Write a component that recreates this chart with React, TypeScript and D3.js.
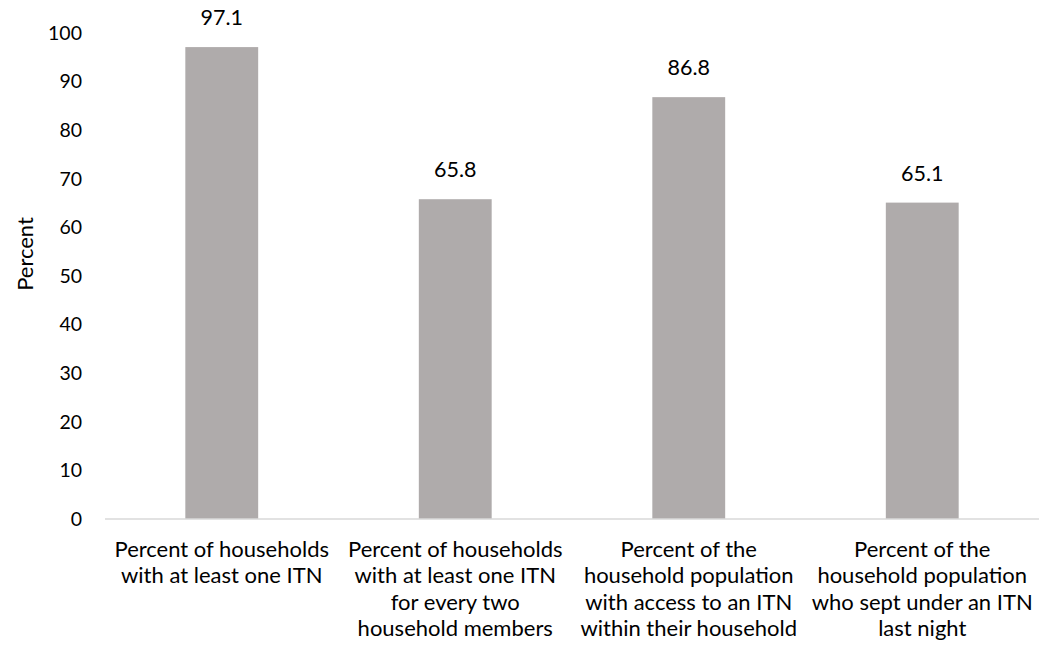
import React from "react";
import * as d3 from "d3";

const categories = [
  ["Percent of households", "with at least one ITN"],
  ["Percent of households", "with at least one ITN", "for every two", "household members"],
  ["Percent of the", "household population", "with access to an ITN", "within their household"],
  ["Percent of the", "household population", "who sept under an ITN", "last night"],
];
const values = [97.1, 65.8, 86.8, 65.1];
const yTicks = [0, 10, 20, 30, 40, 50, 60, 70, 80, 90, 100];

const W = 1039;
const H = 653;
const font = "Lato, 'Open Sans', sans-serif";

export default function App() {
  const x = d3
    .scaleBand<number>()
    .domain(values.map((_, i) => i))
    .range([105, 1039])
    .paddingInner(0.688)
    .paddingOuter(0.344);
  const y = d3.scaleLinear().domain([0, 100]).range([519, 33]);

  return (
    <svg
      width={W}
      height={H}
      style={{ position: "absolute", left: 0, top: 0, background: "#fff" }}
      fontFamily={font}
    >
      {/* y tick labels */}
      {yTicks.map((t) => (
        <text
          key={t}
          x={82}
          y={y(t)}
          dy="0.35em"
          textAnchor="end"
          fontSize={19.5}
          fill="#000"
        >
          {t}
        </text>
      ))}
      <text
        transform={`translate(33, ${254}) rotate(-90)`}
        textAnchor="middle"
        fontSize={22}
        fill="#000"
      >
        Percent
      </text>

      {/* bars */}
      {values.map((v, i) => (
        <g key={i}>
          <rect
            x={x(i)}
            y={y(v)}
            width={x.bandwidth()}
            height={y(0) - y(v)}
            fill="#AFABAB"
          />
          <text
            x={(x(i) ?? 0) + x.bandwidth() / 2}
            y={y(v) - 22}
            textAnchor="middle"
            fontSize={21.5}
            fill="#000"
          >
            {v.toFixed(1)}
          </text>
        </g>
      ))}

      {/* x axis */}
      <line x1={105} x2={1039} y1={y(0)} y2={y(0)} stroke="#D9D9D9" strokeWidth={1.5} />
      {categories.map((lines, i) => (
        <text
          key={i}
          x={(x(i) ?? 0) + x.bandwidth() / 2}
          y={557}
          textAnchor="middle"
          fontSize={22}
          fill="#000"
        >
          {lines.map((l, j) => (
            <tspan key={j} x={(x(i) ?? 0) + x.bandwidth() / 2} dy={j === 0 ? 0 : 26.3}>
              {l}
            </tspan>
          ))}
        </text>
      ))}
    </svg>
  );
}
